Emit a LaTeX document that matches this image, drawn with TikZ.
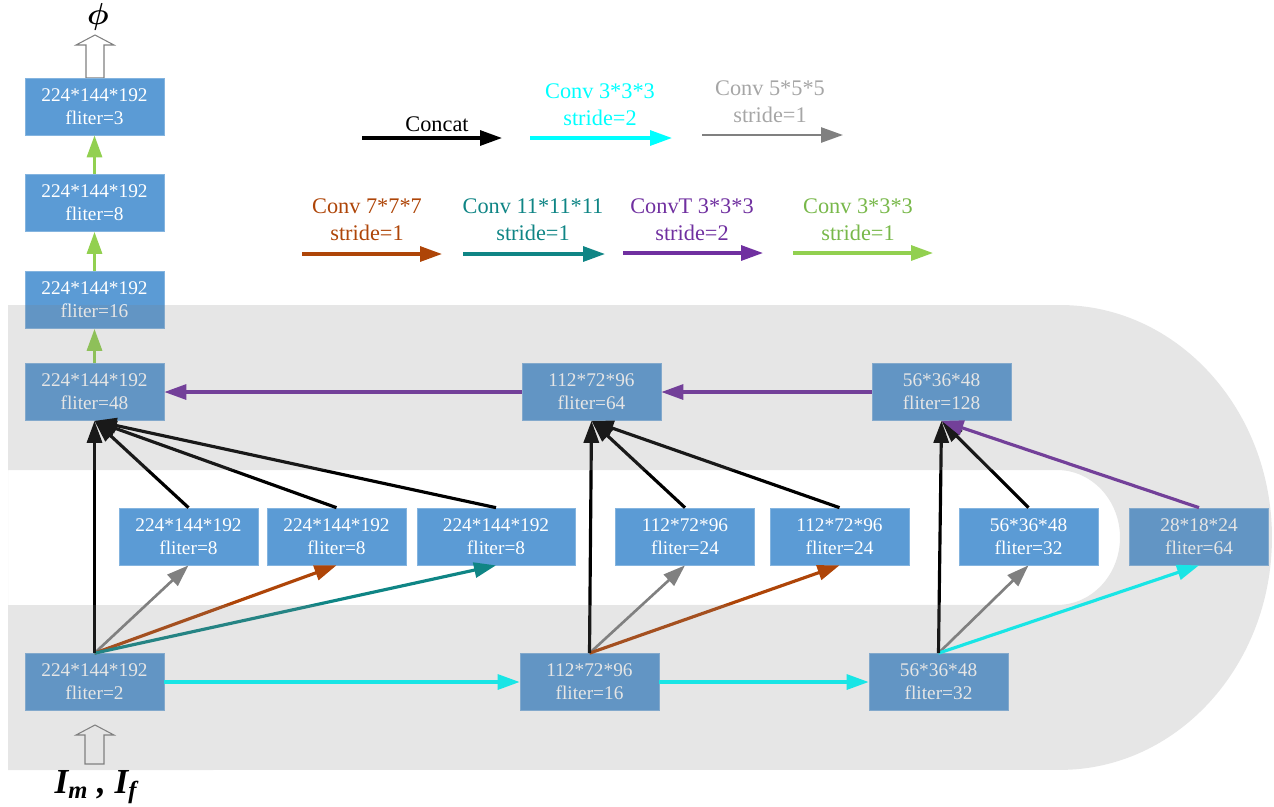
\documentclass[tikz,border=0pt]{standalone}
\usepackage{amsmath}
\usepackage{fontspec}
\setmainfont{Liberation Serif}
\usetikzlibrary{arrows.meta}
\definecolor{boxblue}{HTML}{5B9BD5}
\definecolor{convcyan}{HTML}{00FFFF}
\definecolor{convgray}{HTML}{808080}
\definecolor{convgraytext}{HTML}{A6A6A6}
\definecolor{convbrown}{HTML}{AE4508}
\definecolor{convteal}{HTML}{0F8585}
\definecolor{convpurple}{HTML}{7030A0}
\definecolor{convgreen}{HTML}{92D050}
\definecolor{convgreentext}{HTML}{78B84A}
\begin{document}
\begin{tikzpicture}[x=0.02cm,y=-0.02cm,>={Triangle[length=0.44cm,width=0.3cm]},
  fm/.style={fill=boxblue,draw=boxblue!75!white,line width=0.4pt,text=white,minimum width=2.78cm,minimum height=1.14cm,inner sep=0pt,align=center,font=\fontsize{11}{13}\selectfont},
  lgd/.style={align=center,inner sep=0pt,font=\fontsize{12.7}{15.3}\selectfont},
  hollow/.style={draw=convgray,fill=white,line width=0.6pt},
  concat/.style={->,line width=1.8pt,black},
  c3s2/.style={->,line width=1.8pt,convcyan},
  c5/.style={->,line width=1.5pt,convgray},
  c7/.style={->,line width=1.8pt,convbrown},
  c11/.style={->,line width=1.8pt,convteal},
  ct3/.style={->,line width=1.8pt,convpurple},
  c3s1/.style={->,line width=1.8pt,convgreen}]
\useasboundingbox (0,0) rectangle (1274,806);
% legend
\coordinate (k1a) at (362,138); \coordinate (k1b) at (502,138);
\coordinate (k2a) at (530,138); \coordinate (k2b) at (672,138);
\coordinate (k3a) at (702,135); \coordinate (k3b) at (843,135);
\coordinate (k4a) at (302,254); \coordinate (k4b) at (442,254);
\coordinate (k5a) at (463,254); \coordinate (k5b) at (605,254);
\coordinate (k6a) at (623,253); \coordinate (k6b) at (763,253);
\coordinate (k7a) at (793,253); \coordinate (k7b) at (933,253);
\draw[concat] (k1a)--(k1b);
\draw[c3s2] (k2a)--(k2b);
\draw[c5] (k3a)--(k3b);
\draw[c7] (k4a)--(k4b);
\draw[c11] (k5a)--(k5b);
\draw[ct3] (k6a)--(k6b);
\draw[c3s1] (k7a)--(k7b);
\node[lgd] (k1t) at (437,124.5) {Concat};
\node[lgd,text=convcyan] (k2t) at (600,105) {Conv 3*3*3\\stride=2};
\node[lgd,text=convgraytext] (k3t) at (770,101.5) {Conv 5*5*5\\stride=1};
\node[lgd,text=convbrown] (k4t) at (367,220) {Conv 7*7*7\\stride=1};
\node[lgd,text=convteal] (k5t) at (533,220) {Conv 11*11*11\\stride=1};
\node[lgd,text=convpurple] (k6t) at (692,220) {ConvT 3*3*3\\stride=2};
\node[lgd,text=convgreentext] (k7t) at (858,220) {Conv 3*3*3\\stride=1};
% input and output
\draw[hollow] (86,78)--(86,45)--(76,45)--(95,35)--(114,45)--(104,45)--(104,78)--cycle;
\draw[hollow] (85,764)--(85,735)--(76,735)--(95,725)--(114,735)--(104,735)--(104,764)--cycle;
\node (phi) at (98,17) {\fontsize{17}{19}\selectfont$\boldsymbol{\phi}$};
\node (imf) at (96,787) {\fontsize{20}{22}\selectfont\bfseries\itshape I\textsubscript{m} , I\textsubscript{f}};
% feature maps
\node[fm] (d3) at (94.5,106.5) {224*144*192\\fliter=3};
\node[fm] (d8) at (94.5,203) {224*144*192\\fliter=8};
\node[fm] (d16) at (94.5,300) {224*144*192\\fliter=16};
\node[fm] (u48) at (94.5,392) {224*144*192\\fliter=48};
\node[fm] (u64) at (591.5,392) {112*72*96\\fliter=64};
\node[fm] (u128) at (941.5,392) {56*36*48\\fliter=128};
\node[fm] (m1) at (188.5,536.5) {224*144*192\\fliter=8};
\node[fm] (m2) at (336.5,536.5) {224*144*192\\fliter=8};
\node[fm,minimum width=3.16cm] (m3) at (496,536.5) {224*144*192\\fliter=8};
\node[fm] (m4) at (685,536.5) {112*72*96\\fliter=24};
\node[fm] (m5) at (839.5,536.5) {112*72*96\\fliter=24};
\node[fm] (m6) at (1028.5,536.5) {56*36*48\\fliter=32};
\node[fm] (m7) at (1199,536.5) {28*18*24\\fliter=64};
\node[fm] (e2) at (94.5,682) {224*144*192\\fliter=2};
\node[fm] (e16) at (589.5,682) {112*72*96\\fliter=16};
\node[fm] (e32) at (938.5,682) {56*36*48\\fliter=32};
% encoder
\draw[c3s2] (e2)--(e16);
\draw[c3s2] (e16)--(e32);
\draw[c5] (e2.north)--(m1.south);
\draw[c7] (e2.north)--(m2.south);
\draw[c11] (e2.north)--(m3.south);
\draw[c5] (e16.north)--(m4.south);
\draw[c7] (e16.north)--(m5.south);
\draw[c5] (e32.north)--(m6.south);
\draw[c3s2] (e32.north)--(m7.south);
% concat
\draw[concat] (e2.north)--(u48.south);
\draw[concat] (m1.north)--(u48.south);
\draw[concat] (m2.north)--(u48.south);
\draw[concat] (m3.north)--(u48.south);
\draw[concat] (e16.north)--(u64.south);
\draw[concat] (m4.north)--(u64.south);
\draw[concat] (m5.north)--(u64.south);
\draw[concat] (e32.north)--(u128.south);
\draw[concat] (m6.north)--(u128.south);
% decoder
\draw[ct3] (m7.north)--(u128.south);
\draw[ct3] (u128)--(u64);
\draw[ct3] (u64)--(u48);
\draw[c3s1] (u48)--(d16);
\draw[c3s1] (d16)--(d8);
\draw[c3s1] (d8)--(d3);
% gray band
\fill[black!50,fill opacity=0.2,even odd rule]
  (8,305)--(1060,305) arc[start angle=90,end angle=-90,x radius=4.24cm,y radius=4.65cm]--(8,770)--cycle
  (8,470)--(1057,470) arc[start angle=90,end angle=-90,x radius=1.26cm,y radius=1.35cm]--(8,605)--cycle;
\end{tikzpicture}
\end{document}
